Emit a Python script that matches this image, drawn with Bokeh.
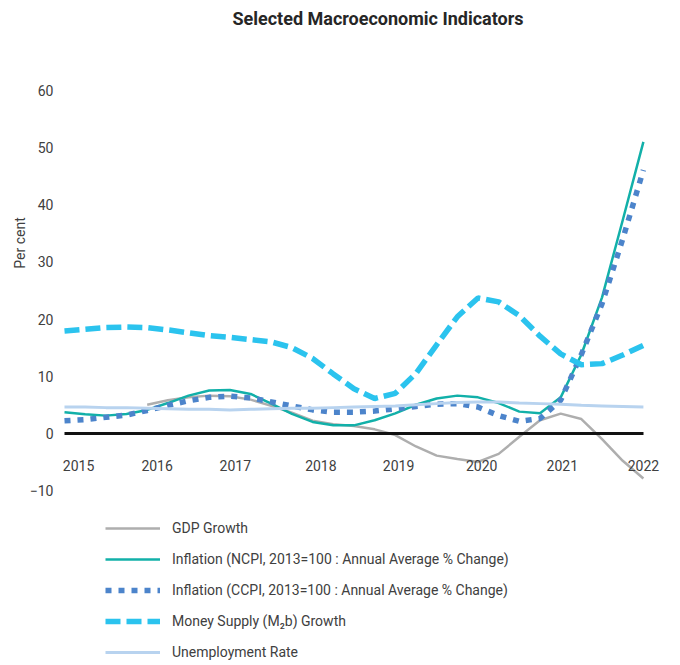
import math
from bokeh.plotting import figure
from bokeh.models import Range1d, FixedTicker, Legend, LegendItem, Label
from bokeh.embed import file_html
from bokeh.resources import INLINE

# ---- data ----
quarters = [2015.0, 2015.25, 2015.5, 2015.75, 2016.0, 2016.25, 2016.5, 2016.75,
            2017.0, 2017.25, 2017.5, 2017.75, 2018.0, 2018.25, 2018.5, 2018.75,
            2019.0, 2019.25, 2019.5, 2019.75, 2020.0, 2020.25, 2020.5, 2020.75,
            2021.0, 2021.25, 2021.5, 2021.75, 2022.0]
gdp_quarters = quarters[4:]

gdp_growth = [5.0, 5.8, 6.3, 6.6, 6.5, 5.9, 4.8, 3.6, 2.2, 1.6, 1.3, 0.7, -0.3,
              -2.3, -3.9, -4.5, -5.0, -3.6, -0.6, 2.3, 3.45, 2.5, -1.0, -4.8, -7.9]
ncpi_inflation = [3.7, 3.35, 3.1, 3.4, 4.1, 5.3, 6.6, 7.5, 7.6, 6.9, 5.2, 3.4, 2.0,
                  1.4, 1.4, 2.3, 3.5, 5.0, 6.1, 6.6, 6.3, 5.3, 3.8, 3.5, 6.3, 13.8,
                  23.8, 37.3, 51.0]
ccpi_inflation = [2.2, 2.4, 2.8, 3.2, 4.0, 4.9, 5.7, 6.3, 6.5, 6.2, 5.5, 4.8, 4.1,
                  3.7, 3.7, 3.9, 4.3, 4.7, 5.1, 5.2, 4.6, 3.1, 2.1, 2.6, 5.8, 13.8,
                  22.7, 34.0, 46.1]
money_supply = [17.9, 18.2, 18.5, 18.6, 18.5, 18.1, 17.6, 17.1, 16.8, 16.4, 16.0,
                15.0, 13.1, 10.4, 7.8, 6.1, 7.0, 10.5, 15.5, 20.4, 23.7, 23.0, 20.6,
                17.0, 13.9, 12.0, 12.2, 13.7, 15.4]
unemployment = [4.6, 4.6, 4.5, 4.5, 4.4, 4.3, 4.2, 4.2, 4.1, 4.2, 4.3, 4.4, 4.4,
                4.5, 4.6, 4.7, 4.8, 5.0, 5.2, 5.4, 5.5, 5.5, 5.3, 5.2, 5.1, 4.9,
                4.8, 4.7, 4.6]

year_labels = ["2015", "2016", "2017", "2018", "2019", "2020", "2021", "2022"]
y_ticks = [-10, 0, 10, 20, 30, 40, 50, 60]
series_names = ["GDP Growth",
                "Inflation (NCPI, 2013=100 : Annual Average % Change)",
                "Inflation (CCPI, 2013=100 : Annual Average % Change)",
                "Money Supply (M\u2082b) Growth",
                "Unemployment Rate"]
title_text = "Selected Macroeconomic Indicators"
y_title = "Per cent"

# ---- layout / style ----
FONT = "Roboto"
TXT = "#404040"
W, H = 680, 665
label_nudge = [0.17, 0.12, 0.065, 0.10, 0.04, 0.045, 0.02, 0.0]
tick_pos = [int(y) + n for y, n in zip(year_labels, label_nudge)]

# the frame covers the whole canvas; ranges are padded so that the plotting
# area (2015..2022, -10..60) sits where it does in the reference
p = figure(width=W, height=H, output_backend="svg", toolbar_location=None,
           title=None,
           x_range=Range1d(2014.2261, 2022.4486), y_range=Range1d(-40.63, 75.75),
           min_border_left=0, min_border_right=0, min_border_top=0,
           min_border_bottom=0, background_fill_color="white",
           border_fill_color="white")
p.outline_line_color = None
p.xgrid.visible = False
p.ygrid.visible = False

xa = p.below[0]
ya = p.left[0]

xa.fixed_location = 0
xa.bounds = (quarters[0], quarters[-1])
xa.ticker = FixedTicker(ticks=tick_pos)
xa.major_label_overrides = {t: s for t, s in zip(tick_pos, year_labels)}
xa.axis_line_color = "#111111"
xa.axis_line_width = 3
xa.major_tick_line_color = None
xa.minor_tick_line_color = None
xa.major_tick_out = 0
xa.major_tick_in = 0
xa.major_label_standoff = 27
xa.major_label_text_font = FONT
xa.major_label_text_font_size = "14px"
xa.major_label_text_color = TXT

ya.fixed_location = quarters[0]
ya.bounds = (y_ticks[0], y_ticks[-1])
ya.ticker = FixedTicker(ticks=y_ticks)
ya.axis_line_color = None
ya.major_tick_line_color = None
ya.minor_tick_line_color = None
ya.major_tick_out = 0
ya.major_tick_in = 0
ya.major_label_standoff = 11
ya.major_label_text_font = FONT
ya.major_label_text_font_size = "14px"
ya.major_label_text_color = TXT

r_gdp = p.line(gdp_quarters, gdp_growth, line_color="#AEAEAE", line_width=2.5)
r_ncpi = p.line(quarters, ncpi_inflation, line_color="#12B0A9", line_width=2.5)
r_ccpi = p.line(quarters, ccpi_inflation, line_color="#4C84CB", line_width=5.5,
                line_dash="6 7")
r_m2 = p.line(quarters, money_supply, line_color="#2BC3EE", line_width=5.5,
              line_dash="15 6")
r_un = p.line(quarters, unemployment, line_color="#B8D3EF", line_width=3)

renderers = [r_gdp, r_ncpi, r_ccpi, r_m2, r_un]
legend = Legend(items=[LegendItem(label=n, renderers=[r]) for n, r in zip(series_names, renderers)],
                location=(105, 3), orientation="vertical", glyph_width=55,
                glyph_height=20, label_height=20, spacing=11, label_standoff=12,
                padding=0, margin=0, border_line_color=None,
                background_fill_alpha=0, label_text_font=FONT,
                label_text_font_size="14px", label_text_color=TXT)
p.add_layout(legend, "center")

p.add_layout(Label(x=377.5, y=H - 18, x_units="screen", y_units="screen",
                   text=title_text, text_align="center", text_baseline="middle",
                   text_font=FONT, text_font_style="bold", text_font_size="18px",
                   text_color="#262626"))
p.add_layout(Label(x=19.5, y=H - 242.5, x_units="screen", y_units="screen",
                   text=y_title, angle=math.pi / 2, text_align="center",
                   text_baseline="middle", text_font=FONT,
                   text_font_size="14px", text_color=TXT))

open("out.html", "w").write(file_html(p, INLINE))
